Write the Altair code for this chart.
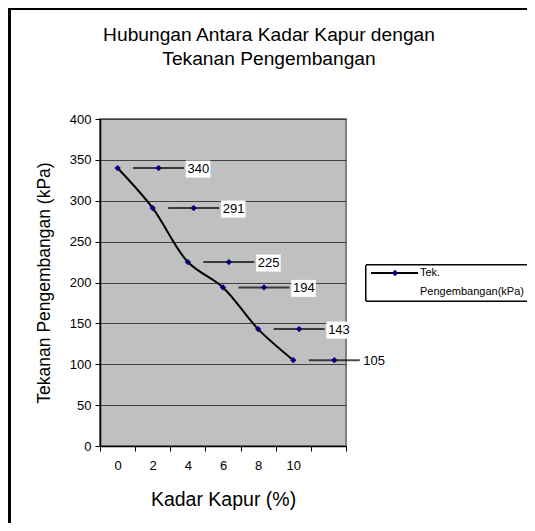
import altair as alt
import pandas as pd

# ---- data ----
kadar = ["0", "2", "4", "6", "8", "10"]
tekanan = [340, 291, 225, 194, 143, 105]
x_domain = ["0", "2", "4", "6", "8", "10", "12"]   # last band is empty in the original
y_ticks = [0, 50, 100, 150, 200, 250, 300, 350, 400]
title_lines = ["Hubungan Antara Kadar Kapur dengan", "Tekanan Pengembangan"]
x_title = "Kadar Kapur (%)"
y_title = "Tekanan Pengembangan (kPa)"
legend_lines = ["Tek.", "Pengembangan(kPa)"]

df = pd.DataFrame({"kadar": kadar, "tekanan": tekanan})

FONT = "Liberation Sans"
W, H = 246, 327
NAVY = "#000080"

x_enc = alt.X(
    "kadar:O",
    sort=x_domain,
    scale=alt.Scale(type="band", domain=x_domain, paddingInner=0, paddingOuter=0),
    axis=alt.Axis(
        title=x_title, labelAngle=0, tickBand="extent",
        labelExpr="datum.value == '12' ? '' : datum.label",
        grid=False, domainColor="black", domainWidth=1.5, tickColor="black",
        tickSize=5, labelFontSize=13, labelPadding=8, labelFont=FONT,
        titleFont=FONT, titleFontSize=19.5, titleFontWeight="normal",
        titlePadding=18, labelColor="black", titleColor="black",
    ),
)
y_enc = alt.Y(
    "tekanan:Q",
    scale=alt.Scale(domain=[0, 400], nice=False, zero=True),
    axis=alt.Axis(
        title=y_title, values=y_ticks, grid=True, gridColor="#404040",
        gridWidth=1, domainColor="black", domainWidth=1.5, tickColor="black",
        tickSize=5, labelFontSize=13, labelPadding=4, labelFont=FONT,
        titleFont=FONT, titleFontSize=17.5, titleFontWeight="normal",
        titlePadding=16, labelColor="black", titleColor="black",
    ),
)

base = alt.Chart(df).encode(x=x_enc, y=y_enc)

line = base.mark_line(interpolate="catmull-rom", color="black", strokeWidth=2)
pts = base.mark_point(shape="diamond", filled=True, color=NAVY, size=40, opacity=1)

# Excel-style data labels with legend keys
key_line = base.mark_tick(orient="horizontal", size=51, thickness=2, color="black", xOffset=41)
key_pt = base.mark_point(shape="diamond", filled=True, color=NAVY, size=40, opacity=1, xOffset=41)
box = base.mark_point(
    shape="M-1.45,-1L1.45,-1L1.45,1L-1.45,1Z", filled=True, color="white",
    size=289, opacity=1, xOffset=80.5, yOffset=1,
)
lbl = base.mark_text(
    align="left", baseline="middle", xOffset=70, dy=1, fontSize=13, font=FONT, color="black"
).encode(text=alt.Text("tekanan:Q"))

# outer chart frame
frame = alt.Chart(df).mark_rect(fill=None, stroke="black", strokeWidth=2, clip=False).encode(
    x=alt.value(-90.5), x2=alt.value(460), y=alt.value(-110), y2=alt.value(440)
)

# legend box (drawn in pixel space to the right of the plot)
leg_box = alt.Chart(df).mark_rect(fill="white", stroke="black", strokeWidth=1).encode(
    x=alt.value(266), x2=alt.value(460), y=alt.value(146), y2=alt.value(182)
)
leg_line = alt.Chart(df).mark_rule(color="black", strokeWidth=2).encode(
    x=alt.value(271), x2=alt.value(318), y=alt.value(154)
)
leg_pt = alt.Chart(pd.DataFrame({"a": [0]})).mark_point(
    shape="diamond", filled=True, color=NAVY, size=40, opacity=1
).encode(x=alt.value(295), y=alt.value(154))
leg_txt = alt.Chart(pd.DataFrame({"t": legend_lines, "yy": [154, 173]})).mark_text(
    align="left", baseline="middle", fontSize=11, font=FONT, color="black"
).encode(x=alt.value(320), y=alt.Y("yy:Q", scale=None), text="t:N")

chart = alt.layer(
    frame, line, pts, key_line, key_pt, box, lbl, leg_box, leg_line, leg_pt, leg_txt
).properties(
    width=W, height=H,
    padding={"left": 92, "top": 111, "right": 181, "bottom": 77},
    autosize=alt.AutoSizeParams(type="none"),
    background="white",
    title=alt.TitleParams(
        title_lines, font=FONT, fontSize=19.2, fontWeight="normal", color="black",
        anchor="middle", frame="group", dx=46, offset=-80, lineHeight=24, baseline="bottom",
    ),
).configure_view(
    fill="#C0C0C0", stroke="#808080", strokeWidth=2
)

chart.save("out.html", embed_options={"renderer": "svg", "actions": False})
